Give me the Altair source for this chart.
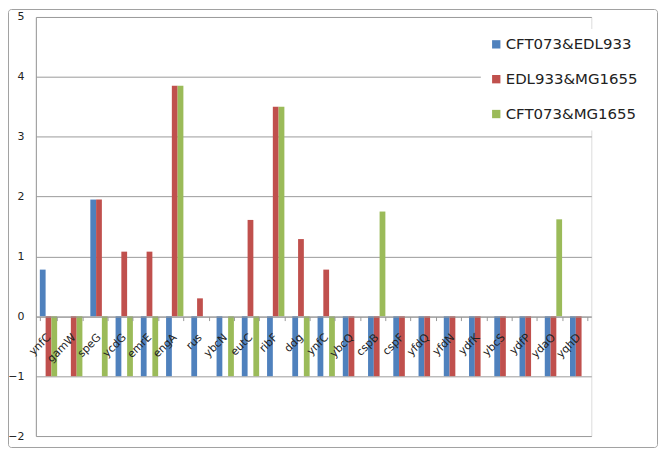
import altair as alt
import pandas as pd

categories = ["ynfC", "gamW", "speG", "ycdG", "emrE", "engA", "rus", "ybcN", "eutC",
              "ribF", "ddg", "ynfC", "ybcQ", "cspB", "cspF", "yfdQ", "yfdN", "ydfK",
              "ybcS", "ydfP", "ydaO", "yqhD"]
series = ["CFT073&EDL933", "EDL933&MG1655", "CFT073&MG1655"]
colors = ["#4F81BD", "#C0504D", "#9BBB59"]
cft_edl = [0.78, 0, 1.95, -1, -1, -1, -1, -1, -1, -1, -1, -1, -1, -1, -1, -1, -1, -1, -1, -1, -1, -1]
edl_mg = [-1, -1, 1.95, 1.08, 1.08, 3.85, 0.3, 0, 1.61, 3.5, 1.29, 0.78, -1, -1, -1, -1, -1, -1, -1, -1, -1, -1]
cft_mg = [-1, -1, -1, -1, -1, 3.85, 0, -1, -1, 3.5, -1, -1, 0, 1.75, 0, 0, 0, 0, 0, 0, 1.62, 0]
y_ticks = [-2, -1, 0, 1, 2, 3, 4, 5]

rows = []
for s, vals in zip(series, [cft_edl, edl_mg, cft_mg]):
    for i, v in enumerate(vals):
        rows.append({"idx": i, "series": s, "value": v})
df = pd.DataFrame(rows)

W, H = 558, 421
label_expr = "[" + ",".join("'%s'" % c for c in categories) + "][datum.value]"

bars = alt.Chart(df).mark_bar().encode(
    x=alt.X("idx:O",
            scale=alt.Scale(paddingInner=0.314, paddingOuter=0.157),
            axis=alt.Axis(title=None, labelExpr=label_expr, labelAngle=315,
                          labelAlign="right", labelBaseline="middle",
                          labelPadding=15, tickBand="extent", ticks=True, tickSize=4,
                          tickColor="#999999", domainColor="#999999",
                          offset=-120, labelFont="DejaVu Sans", labelFontSize=11,
                          labelColor="#222222", grid=False, zindex=1)),
    xOffset=alt.XOffset("series:N", sort=series, scale=alt.Scale(paddingInner=0)),
    y=alt.Y("value:Q", scale=alt.Scale(domain=[-2, 5], nice=False),
            axis=alt.Axis(title=None, values=y_ticks, grid=True, gridColor="#9a9a9a",
                          ticks=False, labelPadding=12, domainColor="#999999",
                          labelFont="DejaVu Sans", labelFontSize=11,
                          labelColor="#222222")),
    color=alt.Color("series:N", sort=series,
                    scale=alt.Scale(domain=series, range=colors),
                    legend=alt.Legend(title=None, orient="none", legendX=447, legendY=12,
                                      fillColor="white", padding=8, symbolType="square",
                                      symbolSize=70, symbolStrokeWidth=0,
                                      labelFont="DejaVu Sans", labelFontSize=15,
                                      labelColor="#222222", labelOffset=2,
                                      rowPadding=19)),
)

border = alt.Chart(alt.Data(values=[{}])).mark_rect(
    fillOpacity=0, stroke="#a0a0a0", strokeWidth=1, cornerRadius=3
).encode(
    x=alt.value(-27.5), x2=alt.value(W + 66.5),
    y=alt.value(-7.5), y2=alt.value(H + 11.5)
)

chart = alt.layer(border, bars).properties(
    width=W, height=H,
    autosize=alt.AutoSizeParams(type="none"),
    padding={"left": 28, "top": 8, "right": 67, "bottom": 12},
).configure_view(stroke=None).configure(background="white")

chart.save("out.html", embed_options={"renderer": "svg", "actions": False})
